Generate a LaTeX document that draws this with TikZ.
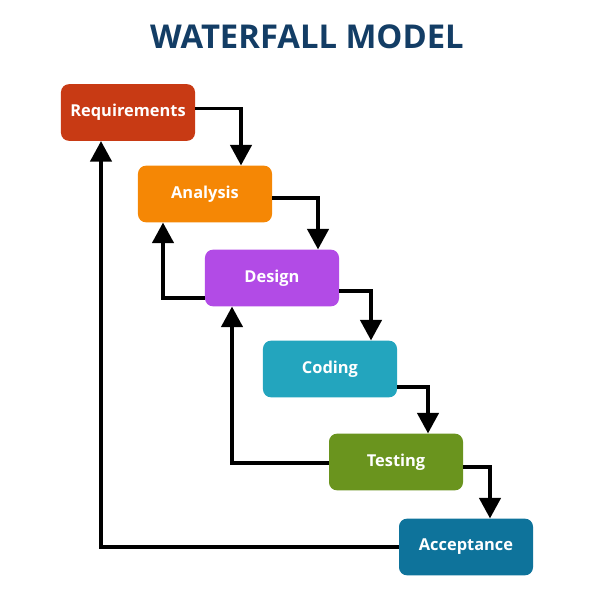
\documentclass[tikz,border=0pt]{standalone}
\usepackage{fontspec}
\setmainfont{Open Sans}
\usetikzlibrary{arrows.meta}
\definecolor{reqred}{RGB}{200,58,20}
\definecolor{anaorange}{RGB}{245,135,5}
\definecolor{despurple}{RGB}{178,75,230}
\definecolor{codteal}{RGB}{35,165,190}
\definecolor{testgreen}{RGB}{106,148,30}
\definecolor{accblue}{RGB}{14,115,155}
\definecolor{titleblue}{RGB}{19,61,101}

\begin{document}
\begin{tikzpicture}[x=0.03cm,y=-0.03cm,
    phase/.style={rounded corners=0.24cm, minimum width=4.02cm, minimum height=1.7cm,
        text=white, font=\fontsize{14}{16}\selectfont\bfseries, inner sep=0pt},
    flow/.style={line width=3.2pt, -{Triangle[length=0.62cm,width=0.64cm]}}]
        \useasboundingbox (0,0) rectangle (613,594);

        % Title
        \node[text=titleblue, font=\fontsize{28}{32}\selectfont\bfseries] (title) at (307,37) {WATERFALL MODEL};

        % Phases
        \node[phase, fill=reqred] (req) at (128,112.5) {Requirements};
        \node[phase, fill=anaorange] (ana) at (205,194) {Analysis};
        \node[phase, fill=despurple] (des) at (272,278) {Design};
        \node[phase, fill=codteal] (cod) at (330,369) {Coding};
        \node[phase, fill=testgreen] (tst) at (396,462) {Testing};
        \node[phase, fill=accblue] (acc) at (466,547) {Acceptance};

        % Forward flow
        \draw[flow] ([yshift=0.12cm]req.east) -| ([xshift=1.08cm]ana.north);
        \draw[flow] ([yshift=-0.12cm]ana.east) -| ([xshift=1.38cm]des.north);
        \draw[flow] ([yshift=-0.39cm]des.east) -| ([xshift=1.23cm]cod.north);
        \draw[flow] ([yshift=-0.54cm]cod.east) -| ([xshift=0.96cm]tst.north);
        \draw[flow] ([yshift=-0.15cm]tst.east) -| ([xshift=0.72cm]acc.north);

        % Feedback
        \draw[flow] ([yshift=-0.6cm]des.west) -| ([xshift=-1.26cm]ana.south);
        \draw[flow] ([yshift=-0.03cm]tst.west) -| ([xshift=-1.2cm]des.south);
        \draw[flow] (acc.west) -| ([xshift=-0.81cm]req.south);
    \end{tikzpicture}
\end{document}
